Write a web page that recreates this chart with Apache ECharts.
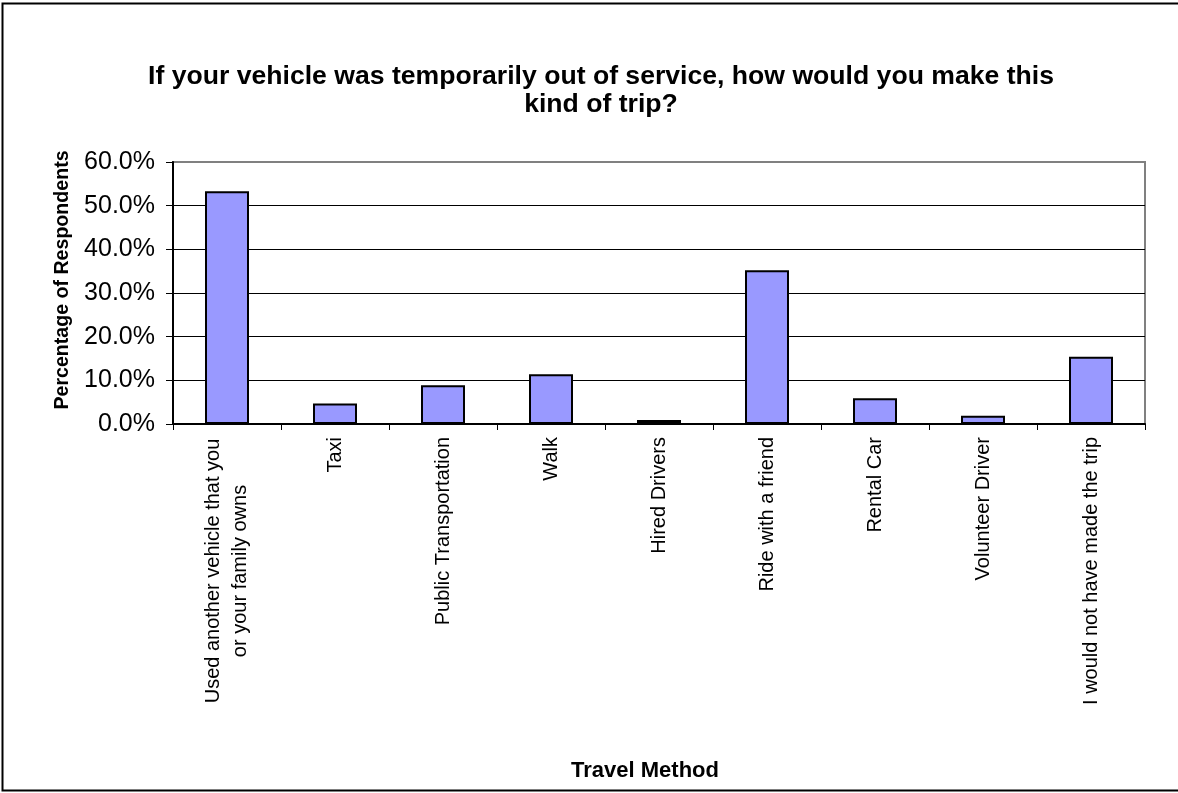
<!DOCTYPE html>
<html>
<head>
<meta charset="utf-8">
<style>
  html, body { margin: 0; padding: 0; background: #fff; }
  #chart { width: 1178px; height: 793px; }
</style>
<script src="https://cdn.jsdelivr.net/npm/echarts@6/dist/echarts.min.js"></script>
</head>
<body>
<div id="chart"></div>
<script>
// Survey answers: travel method used when the vehicle is out of service
const categories = [
  'Used another vehicle that you\nor your family owns',
  'Taxi',
  'Public Transportation',
  'Walk',
  'Hired Drivers',
  'Ride with a friend',
  'Rental Car',
  'Volunteer Driver',
  'I would not have made the trip'
];
// Share of respondents, in percent
const shares = [53.3, 4.7, 8.9, 11.4, 0.9, 35.2, 5.9, 1.9, 15.4];
const titleText = 'If your vehicle was temporarily out of service, how would you make this\nkind of trip?';
const yAxisTitle = 'Percentage of Respondents';
const xAxisTitle = 'Travel Method';

const FONT = 'Arial, "Liberation Sans", sans-serif';
const chart = echarts.init(document.getElementById('chart'), null, { renderer: 'canvas' });

chart.setOption({
  backgroundColor: '#ffffff',
  animation: false,
  title: {
    text: titleText,
    left: 596,
    top: 58,
    textAlign: 'center',
    textStyle: { fontFamily: FONT, fontSize: 26.6, fontWeight: 'bold', color: '#000', lineHeight: 28, align: 'center' }
  },
  graphic: [{
    type: 'rect',
    shape: { x: 2.5, y: 3.5, width: 1200, height: 787 },
    style: { fill: 'none', stroke: '#000', lineWidth: 2 },
    silent: true
  }],
  grid: {
    left: 173, right: 33, top: 162, bottom: 369,
    show: true, borderColor: '#808080', borderWidth: 2, backgroundColor: '#fff'
  },
  xAxis: {
    type: 'category',
    data: categories,
    name: xAxisTitle,
    nameLocation: 'middle',
    nameGap: 336,
    nameTextStyle: { fontFamily: FONT, fontSize: 22, fontWeight: 'bold', color: '#000', verticalAlign: 'top', padding: [0, 28, 0, 0] },
    axisLine: { lineStyle: { color: '#000', width: 2 } },
    axisTick: { show: true, alignWithLabel: false, length: 6, lineStyle: { color: '#000', width: 1 } },
    axisLabel: {
      interval: 0,
      rotate: 90,
      margin: 13,
      fontFamily: FONT,
      fontSize: 20,
      color: '#000',
      formatter: function (v) {
        if (v.indexOf('\n') >= 0) {
          return v.split('\n').map(function (s) { return '{c|' + s + '}'; }).join('\n');
        }
        return v;
      },
      rich: {
        c: { width: 268, align: 'center', fontFamily: FONT, fontSize: 20, color: '#000', lineHeight: 27 }
      }
    },
    splitLine: { show: false }
  },
  yAxis: {
    type: 'value',
    min: 0,
    max: 60,
    interval: 10,
    name: yAxisTitle,
    nameLocation: 'middle',
    nameRotate: 90,
    nameGap: 100,
    nameTextStyle: { fontFamily: FONT, fontSize: 19.6, fontWeight: 'bold', color: '#000', padding: [0, 0, 0, 26] },
    axisLine: { show: true, lineStyle: { color: '#000', width: 2 } },
    axisTick: { show: true, length: 7, lineStyle: { color: '#000', width: 1 } },
    axisLabel: {
      margin: 18,
      fontFamily: FONT,
      fontSize: 25,
      color: '#000',
      formatter: function (v) { return v.toFixed(1) + '%'; }
    },
    splitLine: { show: true, showMinLine: false, showMaxLine: false, lineStyle: { color: '#000', width: 1 } }
  },
  series: [{
    type: 'bar',
    data: shares,
    barWidth: 44,
    itemStyle: { color: '#9999FF', borderColor: '#000', borderWidth: 2 }
  }]
});
</script>
</body>
</html>
